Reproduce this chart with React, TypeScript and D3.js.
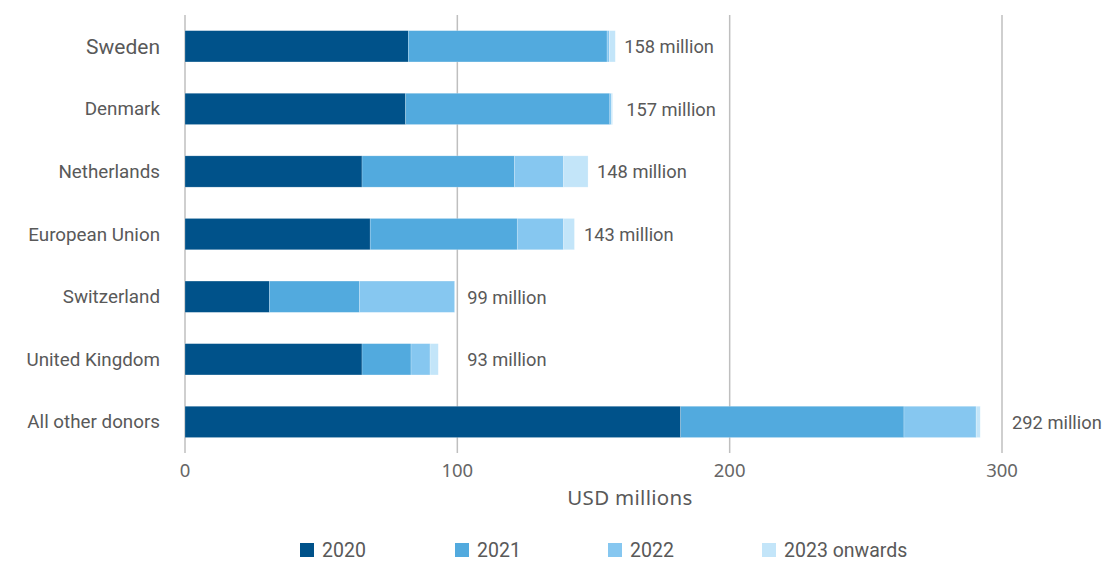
import React from "react";
import * as d3 from "d3";

const categories = ["Sweden", "Denmark", "Netherlands", "European Union", "Switzerland", "United Kingdom", "All other donors"];
const seriesNames = ["2020", "2021", "2022", "2023 onwards"];
const y2020 = [82, 81, 65, 68, 31, 65, 182];
const y2021 = [73, 75, 56, 54, 33, 18, 82];
const y2022 = [0.8, 0.6, 18, 17, 35, 7, 26.5];
const y2023 = [2.2, 0.4, 9, 4, 0, 3, 1.5];
const totalLabels = ["158 million", "157 million", "148 million", "143 million", "99 million", "93 million", "292 million"];
const labelAt = [161.3, 162, 151.3, 146.5, 103.6, 103.6, 303.7];
const xTicks = [0, 100, 200, 300];
const colors = ["#00528a", "#52aade", "#86c7f0", "#c3e5f9"];

export default function App() {
  const W = 1106, H = 561;
  const x = d3.scaleLinear().domain([0, 300]).range([185, 1002]);
  const y = d3.scaleBand<string>().domain(categories).range([15, 453.2]).paddingInner(0.5).paddingOuter(0.25);
  const rows = categories.map((c, i) => ({ cat: c, s0: y2020[i], s1: y2021[i], s2: y2022[i], s3: y2023[i] }));
  const stack = d3.stack<any>().keys(["s0", "s1", "s2", "s3"]);
  const layers = stack(rows);
  const textColor = "#595959";
  const legendX = [300, 455, 608, 762];
  return (
    <svg width={W} height={H} style={{ position: "absolute", left: 0, top: 0, background: "#fff" }}>
      {xTicks.map((t) => (
        <line key={"g" + t} x1={x(t)} x2={x(t)} y1={15} y2={453} stroke="#bfbfbf" strokeWidth={1.5} />
      ))}
      {layers.map((layer, li) => (
        <g key={li} fill={colors[li]}>
          {layer.map((d, i) => {
            const w = x(d[1]) - x(d[0]);
            if (w <= 0) return null;
            return (
              <rect key={i} x={x(d[0])} y={y(categories[i])} width={w} height={y.bandwidth()} stroke="#ffffff" strokeOpacity={0.35} strokeWidth={0.6} />
            );
          })}
        </g>
      ))}
      {categories.map((c, i) => (
        <text key={c} x={160} y={(y(c) as number) + y.bandwidth() / 2} dy="0.35em" textAnchor="end"
          fontFamily="Roboto" fontSize={i === 0 ? 21 : 18.8} fill={textColor}>{c}</text>
      ))}
      {categories.map((c, i) => (
        <text key={"v" + c} x={x(labelAt[i])} y={(y(c) as number) + y.bandwidth() / 2 + 0.5} dy="0.35em"
          fontFamily="Roboto" fontSize={18.3} fill={textColor}>{totalLabels[i]}</text>
      ))}
      {xTicks.map((t) => (
        <text key={"t" + t} x={x(t)} y={477} textAnchor="middle" fontFamily="Noto Sans" fontSize={18.5} fill="#666">{t}</text>
      ))}
      <text x={630} y={505} textAnchor="middle" fontFamily="Noto Sans" fontSize={20.5} fill={textColor} letterSpacing={0.3}>USD millions</text>
      {seriesNames.map((s, i) => (
        <g key={s} transform={`translate(${legendX[i]},0)`}>
          <rect x={0} y={543} width={14} height={14} fill={colors[i]} />
          <text x={22} y={557} fontFamily="Roboto" fontSize={19.5} fill={textColor}>{s}</text>
        </g>
      ))}
    </svg>
  );
}
